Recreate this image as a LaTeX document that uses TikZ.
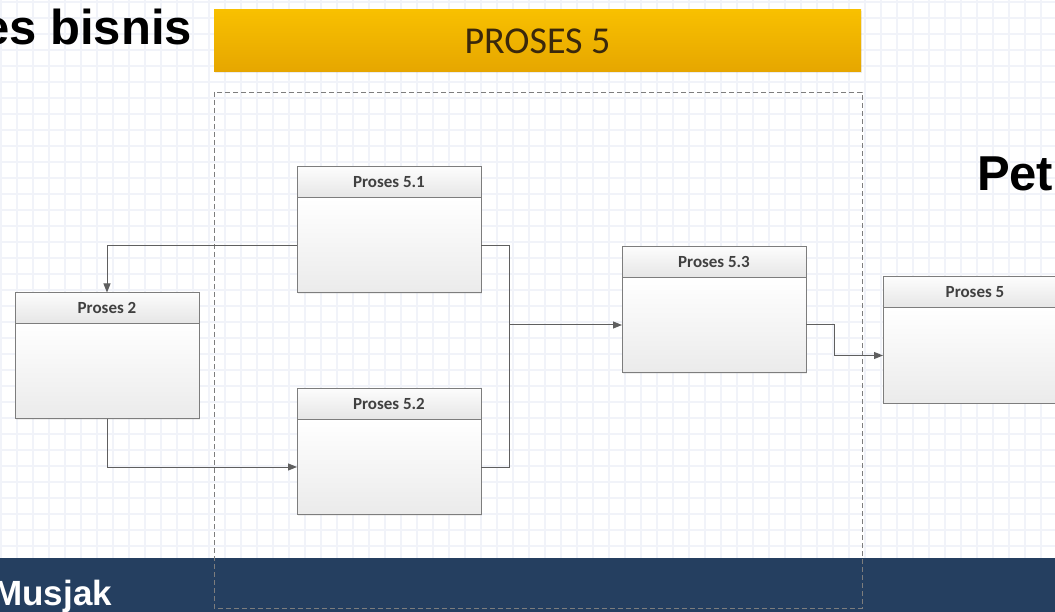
\documentclass[tikz,border=0pt]{standalone}
\usepackage{fontspec}
\setmainfont{Liberation Sans}
\newfontfamily\calibri{Carlito}
\usetikzlibrary{arrows.meta, positioning, shadows}
\definecolor{gridcol}{RGB}{241,243,249}
\definecolor{linecol}{RGB}{95,95,95}
\definecolor{edgecol}{RGB}{125,125,125}
\definecolor{navy}{RGB}{37,63,96}
\definecolor{bannertop}{RGB}{248,192,0}
\definecolor{bannerbot}{RGB}{230,166,0}
\definecolor{bannertext}{RGB}{58,40,12}

\begin{document}
\begin{tikzpicture}[x=1pt, y=-1pt,
		every node/.style={inner sep=0pt, outer sep=0pt},
		gridline/.style={gridcol, line width=1.2pt},
		procbody/.style={draw=edgecol, line width=1pt, top color=white, bottom color=black!8,
			minimum width=184pt, minimum height=95pt,
			drop shadow={opacity=0.12, shadow xshift=1pt, shadow yshift=-1pt}},
		prochead/.style={draw=edgecol, line width=1pt, top color=black!1, bottom color=black!10,
			minimum width=184pt, minimum height=31pt, anchor=south,
			font=\calibri\bfseries\fontsize{17}{19}\selectfont, text=black!75},
		flow/.style={linecol, line width=1pt},
		flowarrow/.style={flow, -{Triangle[length=9pt, width=7pt]}},
		bigtitle/.style={font=\bfseries\fontsize{49}{55}\selectfont}]
		\clip (0,0) rectangle (1055,612);
		\fill[white] (0,0) rectangle (1055,612);
		
		% background grid
		\foreach \gx in {1,17,...,1055} \draw[gridline] (\gx,0) -- (\gx,612);
		\foreach \gy in {2,18,...,612} \draw[gridline] (0,\gy) -- (1055,\gy);
		
		% footer band and titles
		\fill[navy] (0,558) rectangle (1055,612);
		\node[bigtitle, anchor=base east] (title) at (192,45) {es bisnis};
		\node[bigtitle, anchor=base west] (title2) at (977,191) {Pet};
		\node[font=\bfseries\fontsize{35}{38}\selectfont, text=white, anchor=base east] (author) at (112,605) {Musjak};
		
		% banner and subprocess frame
		\node[top color=bannertop, bottom color=bannerbot, minimum width=647pt, minimum height=62pt,
			font=\calibri\fontsize{38}{40}\selectfont, text=bannertext,
			drop shadow={opacity=0.15, shadow xshift=1pt, shadow yshift=-1.5pt}] (banner) at (537.5,41) {PROSES 5};
		\draw[edgecol, line width=0.8pt, dash pattern=on 5pt off 3pt] (214,92) rectangle (862,608);
		
		% process boxes
		\node[procbody] (p51) at (389,245.5) {};
		\node[prochead] (p51h) at (p51.north) {Proses 5.1};
		\node[procbody] (p52) at (389,467) {};
		\node[prochead] (p52h) at (p52.north) {Proses 5.2};
		\node[procbody] (p53) at (714,325) {};
		\node[prochead] (p53h) at (p53.north) {Proses 5.3};
		\node[procbody] (p2) at (107,371) {};
		\node[prochead] (p2h) at (p2.north) {Proses 2};
		\node[procbody] (p5) at (975,355.5) {};
		\node[prochead] (p5h) at (p5.north) {Proses 5};
		
		% connectors
		\coordinate (join) at (509,325);
		\draw[flowarrow] (p51.west) -| (p2h.north);
		\draw[flowarrow] (p2.south) |- (p52.west);
		\draw[flow] (p51.east) -| (join);
		\draw[flow] (p52.east) -| (join);
		\draw[flowarrow] (join) -- (p53.west);
		\draw[flowarrow] (p53.east) -- ++(28,0) |- (p5.west);
	\end{tikzpicture}
\end{document}
